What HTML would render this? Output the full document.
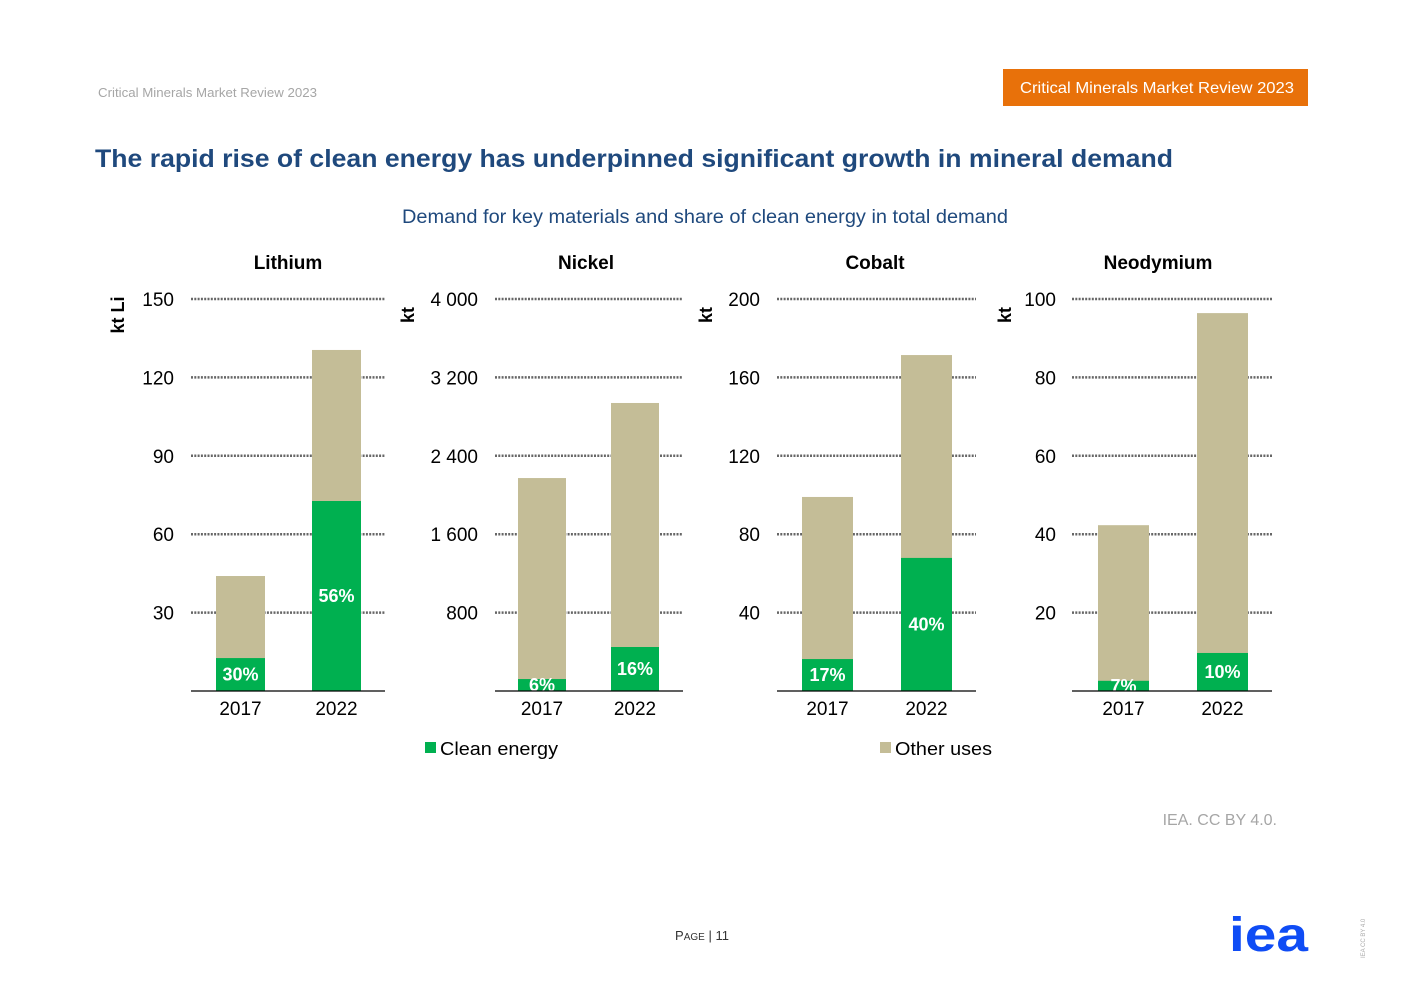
<!DOCTYPE html>
<html><head><meta charset="utf-8"><style>
body{margin:0;background:#fff;font-family:"Liberation Sans",sans-serif}
svg{display:block}
</style></head><body>
<svg id="c" width="1403" height="992" viewBox="0 0 1403 992">
<text x="98" y="97" font-size="13" fill="#a6a6a6" textLength="219" lengthAdjust="spacingAndGlyphs">Critical Minerals Market Review 2023</text>
<rect x="1003" y="69" width="305" height="37" fill="#e8710a"/>
<text x="1020" y="93" font-size="16" fill="#fff" textLength="274" lengthAdjust="spacingAndGlyphs">Critical Minerals Market Review 2023</text>
<text x="95" y="167" font-size="25" font-weight="bold" fill="#1f497d" textLength="1078" lengthAdjust="spacingAndGlyphs">The rapid rise of clean energy has underpinned significant growth in mineral demand</text>
<text x="402" y="223" font-size="19" fill="#1f497d" textLength="606" lengthAdjust="spacingAndGlyphs">Demand for key materials and share of clean energy in total demand</text>
<g id="panels"></g>
<rect x="425" y="742" width="11" height="11" fill="#00b050"/>
<text x="440" y="755" font-size="18" fill="#000" textLength="118" lengthAdjust="spacingAndGlyphs">Clean energy</text>
<rect x="880" y="742" width="11" height="11" fill="#c4bd97"/>
<text x="895" y="755" font-size="18" fill="#000" textLength="97" lengthAdjust="spacingAndGlyphs">Other uses</text>
<text x="1277" y="825" font-size="16" fill="#a6a6a6" text-anchor="end">IEA. CC BY 4.0.</text>
<text x="702" y="940" font-size="13" fill="#333" text-anchor="middle">P<tspan font-size="10">AGE</tspan> | 11</text>
<text x="1229" y="951" font-size="48" font-weight="bold" fill="#0f4cf5" textLength="79" lengthAdjust="spacingAndGlyphs">iea</text>
<text x="1365" y="958" font-size="6" fill="#aaa" transform="rotate(-90 1365 958)">IEA CC BY 4.0</text>
</svg>
<script>
const minerals=["Lithium","Nickel","Cobalt","Neodymium"];
const units=["kt Li","kt","kt","kt"];
const years=["2017","2022"];
const axisMax=[150,4000,200,100];
const tickLabels=[["30","60","90","120","150"],["800","1 600","2 400","3 200","4 000"],["40","80","120","160","200"],["20","40","60","80","100"]];
const totalDemand=[[44,130.5],[2173,2939],[99,171.4],[42.3,96.4]];
const cleanDemand=[[12.6,72.7],[122,449],[16.3,67.9],[2.6,9.7]];
const shareLabels=[["30%","56%"],["6%","16%"],["17%","40%"],["7%","10%"]];
const layout=[{g0:191,g1:385,b:[216,312],bw:49,lab:174,ul:118,tx:288},{g0:495,g1:683,b:[518,611],bw:48,lab:478,ul:408,tx:586},{g0:777,g1:976,b:[802,901],bw:51,lab:760,ul:706,tx:875},{g0:1072,g1:1272,b:[1098,1197],bw:51,lab:1056,ul:1005,tx:1158}];
const NS="http://www.w3.org/2000/svg";
const root=document.getElementById("panels");
const Y0=691,H=392;
function mk(t,a,p){const e=document.createElementNS(NS,t);for(const k in a)e.setAttribute(k,a[k]);(p||root).appendChild(e);return e;}
minerals.forEach((m,i)=>{
 const L=layout[i];const y=v=>Y0-v/axisMax[i]*H;
 const g=mk("g",{});
 
 
 const t=mk("text",{x:L.tx,y:269,"font-size":19,"font-weight":"bold","text-anchor":"middle"},g);t.textContent=m;
 
 
 const u=mk("text",{x:L.ul,y:315,"font-size":18,"font-weight":"bold","text-anchor":"middle",transform:`rotate(-90 ${L.ul} 315)`,dy:6},g);u.textContent=units[i];
 
 
 tickLabels[i].forEach((lb,k)=>{
  const v=axisMax[i]*(k+1)/tickLabels[i].length;const yy=y(v);
  const ln=mk("line",{x1:L.g0,x2:L.g1,y1:yy,y2:yy,stroke:"#666","stroke-width":2.5,"stroke-dasharray":"2 1.3"},g);
  
  
  const tx=mk("text",{x:L.lab,y:yy+7,"font-size":19,"text-anchor":"end"},g);tx.textContent=lb;
  
  
 });
 years.forEach((yr,j)=>{
  const x=L.b[j],tot=totalDemand[i][j],cl=cleanDemand[i][j];
  const r1=mk("rect",{x:x,y:y(tot),width:L.bw,height:Y0-y(tot),fill:"#c4bd97"},g);
  
  
  const r2=mk("rect",{x:x,y:y(cl),width:L.bw,height:Y0-y(cl),fill:"#00b050"},g);
  
  
  const lt=mk("text",{x:x+L.bw/2,y:(y(cl)+Y0)/2+6,"font-size":18,"font-weight":"bold",fill:"#fff","text-anchor":"middle"},g);lt.textContent=shareLabels[i][j];
  
  
  const xl=mk("text",{x:x+L.bw/2,y:715,"font-size":19,"text-anchor":"middle"},g);xl.textContent=yr;
  
  
 });
 const bl=mk("line",{x1:L.g0,x2:L.g1,y1:Y0,y2:Y0,stroke:"#000","stroke-width":1.3},g);
 
 
});
</script>
</body></html>
